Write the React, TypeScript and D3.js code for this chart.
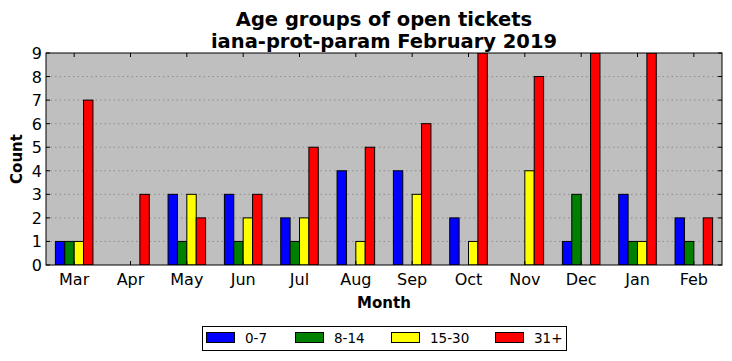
import React from "react";
import * as d3 from "d3";

const months = ["Mar", "Apr", "May", "Jun", "Jul", "Aug", "Sep", "Oct", "Nov", "Dec", "Jan", "Feb"];
const seriesNames = ["0-7", "8-14", "15-30", "31+"];
const seriesColors = ["#0000ff", "#008000", "#ffff00", "#ff0000"];
const age0to7 = [1, 0, 3, 3, 2, 4, 4, 2, 0, 1, 3, 2];
const age8to14 = [1, 0, 1, 1, 1, 0, 0, 0, 0, 3, 1, 1];
const age15to30 = [1, 0, 3, 2, 2, 1, 3, 1, 4, 0, 1, 0];
const age31plus = [7, 3, 2, 3, 5, 5, 6, 9, 8, 9, 9, 2];
const yTicks = [0, 1, 2, 3, 4, 5, 6, 7, 8, 9];

const W = 732;
const H = 361;
const margin = { top: 53, right: 10, bottom: 96, left: 46 };
const font = "'DejaVu Sans', sans-serif";

export default function App() {
  const series = [age0to7, age8to14, age15to30, age31plus];
  const x = d3.scaleBand().domain(months).range([margin.left, W - margin.right]).padding(0);
  const inner = d3
    .scaleBand()
    .domain(seriesNames)
    .range([0, x.bandwidth()])
    .paddingOuter(1)
    .paddingInner(0);
  const y = d3.scaleLinear().domain([0, 9]).range([H - margin.bottom, margin.top]);
  const x0 = margin.left;
  const x1 = W - margin.right;
  const y0 = H - margin.bottom;
  const y1 = margin.top;

  const legendX = [206, 295, 391, 495];

  return (
    <svg width={W} height={H} style={{ position: "absolute", left: 0, top: 0, fontFamily: font }}>
      <defs>
        <clipPath id="plot">
          <rect x={x0} y={y1} width={x1 - x0} height={y0 - y1} />
        </clipPath>
      </defs>
      <rect width={W} height={H} fill="#fff" />
      <rect x={x0} y={y1} width={x1 - x0} height={y0 - y1} fill="#bfbfbf" />
      {/* grid */}
      {yTicks.slice(1, -1).map((t) => (
        <line key={t} x1={x0} x2={x1} y1={y(t)} y2={y(t)} stroke="#808080" strokeWidth={0.8} strokeDasharray="1.5,3" />
      ))}
      {/* bars */}
      <g clipPath="url(#plot)">
        {months.map((m, i) =>
          series.map((s, j) => (
            <rect
              key={m + j}
              x={(x(m) as number) + (inner(seriesNames[j]) as number)}
              y={y(s[i])}
              width={inner.bandwidth()}
              height={y(0) - y(s[i])}
              fill={seriesColors[j]}
              stroke="#000"
              strokeWidth={1}
            />
          ))
        )}
      </g>
      {/* ticks */}
      {months.map((m) => {
        const cx = (x(m) as number) + x.bandwidth() / 2;
        return (
          <g key={m}>
            <line x1={cx} x2={cx} y1={y0} y2={y0 - 4} stroke="#000" />
            <line x1={cx} x2={cx} y1={y1} y2={y1 + 4} stroke="#000" />
            <text x={cx} y={y0 + 20} textAnchor="middle" fontSize={16} fill="#000">
              {m}
            </text>
          </g>
        );
      })}
      {yTicks.map((t) => (
        <g key={t}>
          <line x1={x0} x2={x0 + 4} y1={y(t)} y2={y(t)} stroke="#000" />
          <line x1={x1} x2={x1 - 4} y1={y(t)} y2={y(t)} stroke="#000" />
          <text x={x0 - 4} y={y(t) + 6} textAnchor="end" fontSize={16} fill="#000">
            {t}
          </text>
        </g>
      ))}
      <rect x={x0} y={y1} width={x1 - x0} height={y0 - y1} fill="none" stroke="#000" strokeWidth={1} />
      {/* titles */}
      <text x={(x0 + x1) / 2} y={26} textAnchor="middle" fontSize={19.5} fontWeight="bold">
        Age groups of open tickets
      </text>
      <text x={(x0 + x1) / 2} y={48} textAnchor="middle" fontSize={19.5} fontWeight="bold">
        iana-prot-param February 2019
      </text>
      <text x={(x0 + x1) / 2} y={308} textAnchor="middle" fontSize={15} fontWeight="bold">
        Month
      </text>
      <text transform={`translate(22,${(y0 + y1) / 2}) rotate(-90)`} textAnchor="middle" fontSize={15} fontWeight="bold">
        Count
      </text>
      {/* legend */}
      <rect x={202.5} y={326.5} width={364} height={24} fill="#fff" stroke="#000" strokeWidth={1} />
      {seriesNames.map((n, j) => (
        <g key={n}>
          <rect x={legendX[j] + 0.5} y={332.5} width={28} height={10} fill={seriesColors[j]} stroke="#000" />
          <text x={legendX[j] + 39} y={343} fontSize={13.5}>
            {n}
          </text>
        </g>
      ))}
    </svg>
  );
}
